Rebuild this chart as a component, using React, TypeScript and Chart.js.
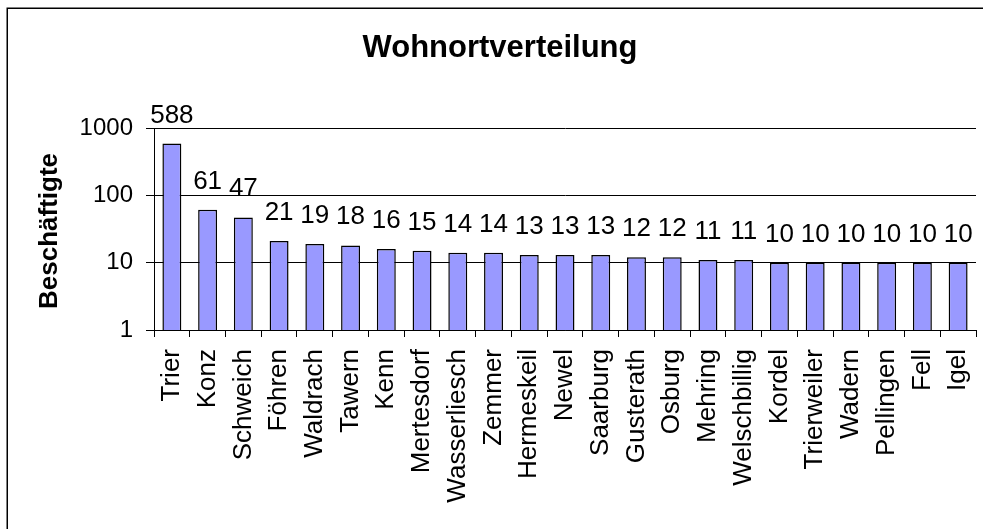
import React, { useEffect, useRef } from "react";
import { Chart, registerables } from "chart.js";

Chart.register(...registerables);

const categories = [
  "Trier", "Konz", "Schweich", "Föhren", "Waldrach", "Tawern", "Kenn", "Mertesdorf",
  "Wasserliesch", "Zemmer", "Hermeskeil", "Newel", "Saarburg", "Gusterath", "Osburg",
  "Mehring", "Welschbillig", "Kordel", "Trierweiler", "Wadern", "Pellingen", "Fell", "Igel",
];
const beschaeftigte = [588, 61, 47, 21, 19, 18, 16, 15, 14, 14, 13, 13, 13, 12, 12, 11, 11, 10, 10, 10, 10, 10, 10];
const yTickValues = [1, 10, 100, 1000];
const chartTitle = "Wohnortverteilung";
const yAxisTitle = "Beschäftigte";

const FONT = '"Liberation Sans", Arial, sans-serif';

const decorPlugin = {
  id: "decor",
  afterDraw(chart: any) {
    const ctx = chart.ctx;
    ctx.save();
    // frame (left/top edges visible)
    ctx.strokeStyle = "#000";
    ctx.lineWidth = 1.5;
    ctx.strokeRect(7.25, 8.25, 1100, 700);
    // title
    ctx.fillStyle = "#000";
    ctx.font = `bold 31px ${FONT}`;
    ctx.textAlign = "center";
    ctx.textBaseline = "alphabetic";
    ctx.fillText(chartTitle, 500, 57);
    // y title
    ctx.save();
    ctx.translate(50, 231);
    ctx.rotate(-Math.PI / 2);
    ctx.font = `bold 26px ${FONT}`;
    ctx.textAlign = "center";
    ctx.textBaseline = "middle";
    ctx.fillText(yAxisTitle, 0, 0);
    ctx.restore();
    // data labels
    const meta = chart.getDatasetMeta(0);
    ctx.font = `26px ${FONT}`;
    ctx.textAlign = "center";
    ctx.textBaseline = "alphabetic";
    meta.data.forEach((bar: any, i: number) => {
      ctx.fillText(String(chart.data.datasets[0].data[i]), bar.x, bar.y - 21);
    });
    ctx.restore();
  },
};

export default function App() {
  const ref = useRef<HTMLCanvasElement>(null);
  useEffect(() => {
    document.body.style.margin = "0";
    const chart = new Chart(ref.current as HTMLCanvasElement, {
      type: "bar",
      data: {
        labels: categories,
        datasets: [
          {
            data: beschaeftigte,
            backgroundColor: "#9999FF",
            borderColor: "#000000",
            borderWidth: 1.5,
            barPercentage: 0.53,
            categoryPercentage: 1,
          },
        ],
      },
      options: {
        animation: false,
        responsive: false,
        devicePixelRatio: 1,
        layout: { padding: { top: 128, left: 0, right: 7, bottom: 0 } },
        plugins: { legend: { display: false }, title: { display: false }, tooltip: { enabled: false } },
        scales: {
          x: {
            offset: true,
            grid: {
              display: true,
              offset: true,
              drawOnChartArea: false,
              drawTicks: true,
              tickLength: 7,
              color: "#000",
            },
            border: { display: true, color: "#000", width: 1 },
            ticks: {
              autoSkip: false,
              maxRotation: 90,
              minRotation: 90,
              padding: 12,
              color: "#000",
              font: { family: FONT, size: 26 },
            },
            afterFit(scale: any) {
              scale.height = 199;
              scale.paddingLeft = 0;
              scale.paddingRight = 0;
            },
          },
          y: {
            type: "logarithmic",
            min: 1,
            max: 1000,
            grid: { color: "#000", lineWidth: 1, tickLength: 8, drawTicks: true },
            border: { display: true, color: "#000", width: 1 },
            afterBuildTicks(scale: any) {
              scale.ticks = yTickValues.map((v) => ({ value: v }));
            },
            ticks: {
              padding: 13,
              color: "#000",
              font: { family: FONT, size: 24 },
              callback: (v: any) => String(v),
            },
            afterFit(scale: any) {
              scale.width = 154;
              scale.paddingTop = 0;
              scale.paddingBottom = 0;
            },
          },
        },
      },
      plugins: [decorPlugin],
    } as any);
    return () => chart.destroy();
  }, []);
  return (
    <div style={{ width: 983, height: 529, background: "#fff" }}>
      <canvas ref={ref} width={983} height={529} />
    </div>
  );
}
